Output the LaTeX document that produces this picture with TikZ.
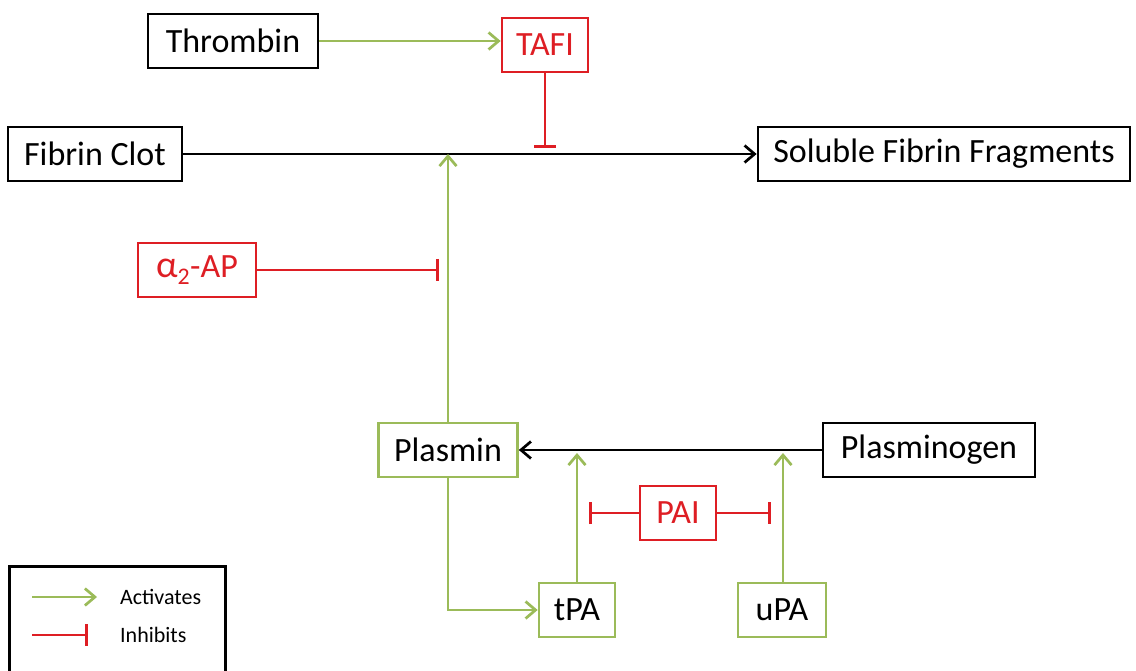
\documentclass[tikz,border=0pt]{standalone}
\usepackage{fontspec}
\setmainfont{Carlito}
\usetikzlibrary{arrows.meta}
\definecolor{actgreen}{RGB}{155,187,89}
\definecolor{inhred}{RGB}{222,30,36}
\tikzset{
  x=1pt,y=-1pt,
  box/.style={draw=#1,line width=2.7pt,minimum height=54pt,inner sep=0pt,font=\fontsize{34}{36}\selectfont},
  blackbox/.style={box=black,text=black},
  greenbox/.style={box=actgreen,text=black},
  redbox/.style={box=inhred,text=inhred},
  act/.style={draw=actgreen,line width=2.7pt,-{Straight Barb[length=10pt,width=17pt,line width=2.7pt]}},
  conv/.style={draw=black,line width=2.7pt,-{Straight Barb[length=10pt,width=17pt,line width=2.7pt]}},
  inh/.style={draw=inhred,line width=2.7pt,-{Bar[width=22pt,line width=2.7pt]}},
  legtext/.style={font=\fontsize{22}{24}\selectfont,anchor=west,inner sep=0pt}
}
\begin{document}
\begin{tikzpicture}
\useasboundingbox (0,0) rectangle (1136,671);
\fill[white] (0,0) rectangle (1136,671);
\node[blackbox,minimum width=170pt] (thr) at (233,41) {Thrombin};
\node[redbox,minimum width=86pt] (tafi) at (545,45) {TAFI};
\node[blackbox,minimum width=174pt] (fc) at (95,154) {Fibrin Clot};
\node[blackbox,minimum width=372pt] (sff) at (944,154) {Soluble Fibrin Fragments};
\node[redbox,minimum width=118pt] (ap) at (197,270) {{\fontsize{38}{38}\selectfont α}\textsubscript{2}-AP};
\node[greenbox,minimum width=139pt] (pl) at (448,450) {Plasmin};
\node[blackbox,minimum width=212pt] (pg) at (929,450) {Plasminogen};
\node[redbox,minimum width=76pt] (pai) at (678,513) {PAI};
\node[greenbox,minimum width=76pt] (tpa) at (577,610) {tPA};
\node[greenbox,minimum width=88pt] (upa) at (782,610) {uPA};
% connectors
\coordinate (tafiend) at (545,148);
\coordinate (mainpt) at (448,154);
\coordinate (apend) at (439,270);
\coordinate (tpaend) at (577,453);
\coordinate (upaend) at (783,453);
\coordinate (paiL) at (589,513);
\coordinate (paiR) at (771,513);
\draw[act] (thr.east) -- (thr.east -| tafi.west);
\draw[inh] (tafi.south) -- (tafiend);
\draw[conv] (fc.east) -- (sff.west);
\draw[act] (pl.north) -- (mainpt);
\draw[inh] (ap.east) -- (apend);
\draw[conv] (pg.west) -- (pl.east);
\draw[act] (tpa.north) -- (tpaend);
\draw[act] (upa.north -| upaend) -- (upaend);
\draw[inh] (pai.west) -- (paiL);
\draw[inh] (pai.east) -- (paiR);
\draw[act] (pl.south) |- (tpa.west);
% legend
\node[draw=black,line width=2.7pt,minimum width=216pt,minimum height=120pt,anchor=north west,inner sep=0pt] (leg) at (8,565) {};
\coordinate (la1) at (32,597);
\coordinate (la2) at (97,597);
\coordinate (li1) at (32,635);
\coordinate (li2) at (88,635);
\draw[act] (la1) -- (la2);
\draw[inh] (li1) -- (li2);
\node[legtext] (lact) at (120,597) {Activates};
\node[legtext] (linh) at (120,635) {Inhibits};
\end{tikzpicture}
\end{document}
